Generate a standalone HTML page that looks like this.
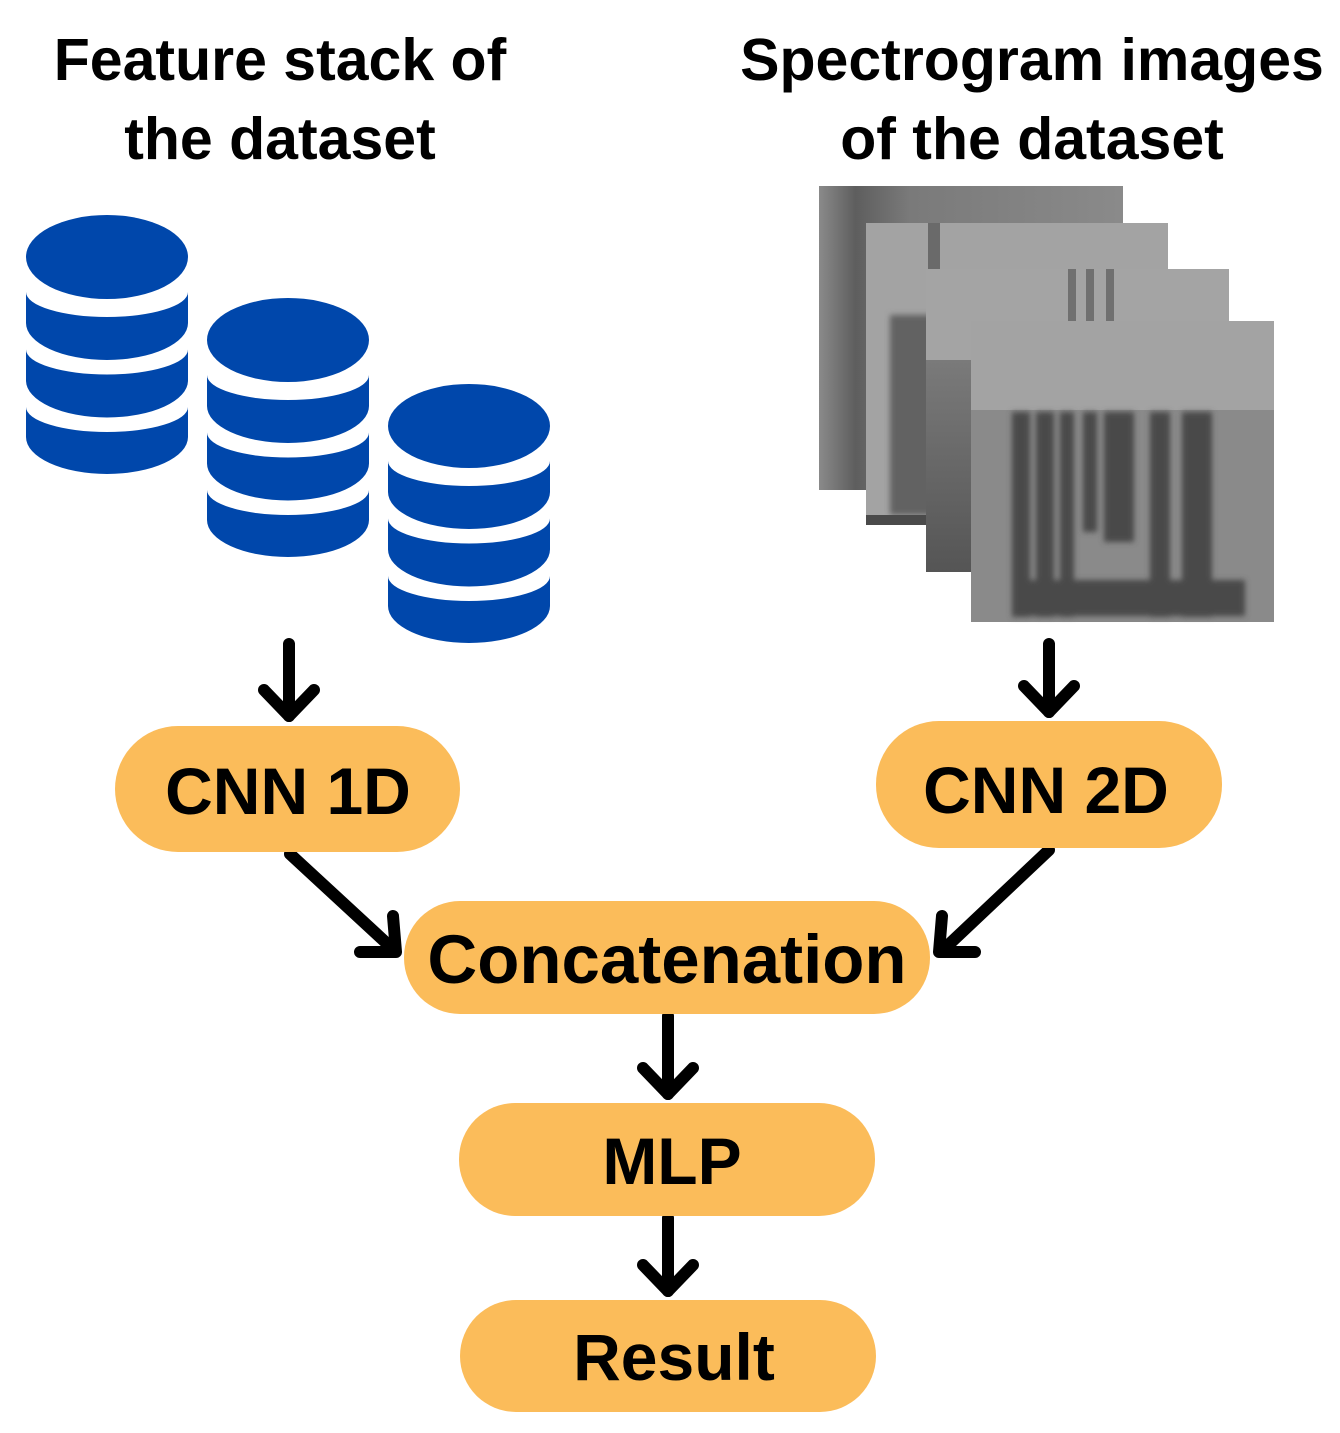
<!DOCTYPE html>
<html><head><style>
html,body{margin:0;padding:0;background:#fff;}
svg{display:block}
text{font-family:"Liberation Sans",sans-serif;font-weight:bold;fill:#000;}
</style></head><body>
<svg width="1340" height="1433" viewBox="0 0 1340 1433">
<defs>
<g id="db">
<ellipse cx="81" cy="42" rx="81" ry="42" fill="#0047ab"/>
<path d="M0,77 A81 25 0 0 0 162 77 L162 108 A81 37 0 0 1 0 108 Z" fill="#0047ab"/>
<path d="M0,134.5 A81 25 0 0 0 162 134.5 L162 165.5 A81 37 0 0 1 0 165.5 Z" fill="#0047ab"/>
<path d="M0,192 A81 25 0 0 0 162 192 L162 222 A81 37 0 0 1 0 222 Z" fill="#0047ab"/>
</g>
<linearGradient id="g1" x1="0" y1="0" x2="1" y2="0">
<stop offset="0" stop-color="#8a8a8a"/><stop offset="0.12" stop-color="#5e5e5e"/><stop offset="0.3" stop-color="#7a7a7a"/><stop offset="1" stop-color="#8a8a8a"/>
</linearGradient>
<linearGradient id="gv" x1="0" y1="0" x2="0" y2="1">
<stop offset="0" stop-color="#7a7a7a"/><stop offset="1" stop-color="#555"/>
</linearGradient>
<filter id="bl"><feGaussianBlur stdDeviation="3"/></filter>
</defs>
<text x="280" y="80" font-size="59" text-anchor="middle">Feature stack of</text>
<text x="280" y="159" font-size="59" text-anchor="middle">the dataset</text>
<text x="1032" y="80" font-size="59" text-anchor="middle">Spectrogram images</text>
<text x="1032" y="159" font-size="59" text-anchor="middle">of the dataset</text>

<use href="#db" x="26" y="215"/>
<use href="#db" x="207" y="298"/>
<use href="#db" x="388" y="384"/>

<rect x="819" y="186" width="304" height="304" fill="url(#g1)"/>
<rect x="866" y="223" width="302" height="302" fill="#a3a3a3"/>
<rect x="890" y="315" width="60" height="200" fill="#626262" filter="url(#bl)"/>
<rect x="928" y="223" width="12" height="46" fill="#6a6a6a"/>
<rect x="866" y="515" width="60" height="10" fill="#4a4a4a"/>
<rect x="926" y="269" width="303" height="303" fill="#a4a4a4"/>
<rect x="926" y="360" width="46" height="212" fill="url(#gv)"/>
<rect x="1068" y="269" width="8" height="52" fill="#707070"/>
<rect x="1086" y="269" width="8" height="52" fill="#707070"/>
<rect x="1106" y="269" width="8" height="52" fill="#707070"/>
<rect x="971" y="321" width="303" height="301" fill="#a3a3a3"/>
<rect x="971" y="410" width="303" height="212" fill="#8a8a8a"/>
<g filter="url(#bl)" fill="#484848">
<rect x="1012" y="412" width="18" height="205"/>
<rect x="1036" y="412" width="18" height="205"/>
<rect x="1060" y="412" width="14" height="205"/>
<rect x="1083" y="412" width="14" height="120"/>
<rect x="1104" y="412" width="30" height="130"/>
<rect x="1150" y="412" width="20" height="205"/>
<rect x="1182" y="412" width="30" height="205"/>
<rect x="1015" y="580" width="230" height="36"/>
</g>

<g stroke="#000" stroke-width="12" fill="none" stroke-linecap="round" stroke-linejoin="round">
<line x1="289" y1="644" x2="289" y2="716"/>
<polyline points="264,690 289,716 314,690"/>
<line x1="1049" y1="644" x2="1049" y2="712"/>
<polyline points="1024,686 1049,712 1074,686"/>
<line x1="290" y1="854" x2="394" y2="950"/>
<polyline points="360,952 396,952 393,916"/>
<line x1="1049" y1="850" x2="943" y2="950"/>
<polyline points="975,952 939,952 942,916"/>
<line x1="668" y1="1016" x2="668" y2="1094"/>
<polyline points="643,1068 668,1094 693,1068"/>
<line x1="668" y1="1218" x2="668" y2="1291"/>
<polyline points="643,1265 668,1291 693,1265"/>
</g>

<g fill="#fbbc5a">
<rect x="115" y="726" width="345" height="126" rx="63"/>
<rect x="876" y="721" width="346" height="127" rx="63"/>
<rect x="404" y="901" width="526" height="113" rx="56"/>
<rect x="459" y="1103" width="416" height="113" rx="56"/>
<rect x="460" y="1300" width="416" height="112" rx="56"/>
</g>
<text x="288" y="814" font-size="66" text-anchor="middle">CNN 1D</text>
<text x="1046" y="813" font-size="66" text-anchor="middle">CNN 2D</text>
<text x="667" y="983" font-size="69" text-anchor="middle">Concatenation</text>
<text x="672" y="1184" font-size="66" text-anchor="middle">MLP</text>
<text x="674" y="1380" font-size="66" text-anchor="middle">Result</text>
</svg>
</body></html>
